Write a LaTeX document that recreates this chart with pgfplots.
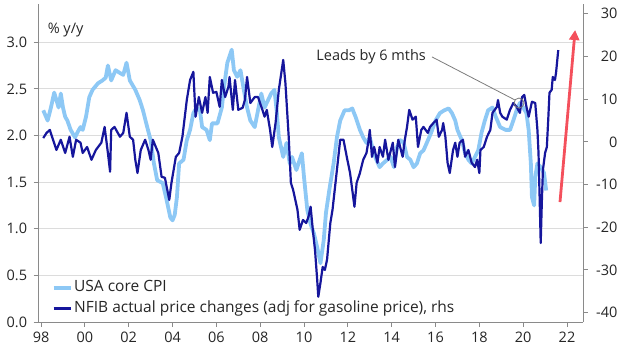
\documentclass[border=0pt]{standalone}
\usepackage{pgfplots}
\pgfplotsset{compat=1.18}
\usetikzlibrary{arrows.meta}
\usepackage{fontspec}
\setmainfont{Open Sans}
\definecolor{cpi}{HTML}{8DC8F5}
\definecolor{nfib}{HTML}{16169C}
\definecolor{arr}{HTML}{F4505C}
\definecolor{axgray}{HTML}{8A8A8A}
\definecolor{gridgray}{HTML}{DCDCDC}
\definecolor{txt}{HTML}{262626}

\pgfplotstableread{
x y
1998.1 2.27
1998.3 2.16
1998.45 2.30
1998.6 2.46
1998.8 2.30
1998.9 2.45
1999.0 2.30
1999.1 2.20
1999.2 2.16
1999.35 2.06
1999.55 1.98
1999.7 2.05
1999.8 2.09
1999.9 2.06
2000.05 2.20
2000.2 2.41
2000.35 2.49
2000.6 2.56
2000.8 2.59
2000.95 2.62
2001.05 2.75
2001.2 2.59
2001.4 2.70
2001.6 2.67
2001.75 2.65
2001.9 2.78
2002.05 2.59
2002.3 2.49
2002.5 2.38
2002.65 2.27
2002.8 2.13
2003.0 1.95
2003.15 1.70
2003.3 1.52
2003.55 1.49
2003.7 1.34
2003.9 1.12
2004.0 1.09
2004.1 1.15
2004.2 1.34
2004.3 1.70
2004.5 1.74
2004.65 1.95
2004.8 2.06
2004.95 2.24
2005.1 2.30
2005.25 2.27
2005.35 2.09
2005.55 2.06
2005.7 1.95
2005.8 2.13
2006.05 2.13
2006.25 2.30
2006.35 2.52
2006.5 2.78
2006.7 2.92
2006.8 2.70
2006.95 2.63
2007.1 2.70
2007.25 2.49
2007.4 2.30
2007.55 2.16
2007.75 2.09
2007.9 2.27
2008.05 2.45
2008.2 2.30
2008.3 2.35
2008.5 2.45
2008.65 2.49
2008.75 2.27
2008.85 1.98
2009.05 1.77
2009.2 1.92
2009.35 1.70
2009.45 1.77
2009.65 1.63
2009.9 1.81
2010.0 1.55
2010.15 1.20
2010.3 1.05
2010.45 0.95
2010.6 0.80
2010.75 0.63
2010.9 0.88
2011.0 1.17
2011.15 1.41
2011.35 1.70
2011.5 1.98
2011.65 2.16
2011.85 2.27
2012.05 2.27
2012.2 2.29
2012.35 2.20
2012.55 2.06
2012.7 1.98
2012.85 1.92
2013.0 1.98
2013.15 1.84
2013.3 1.74
2013.45 1.66
2013.6 1.70
2013.8 1.74
2013.95 1.77
2014.1 1.66
2014.25 1.88
2014.4 1.95
2014.55 1.92
2014.7 1.77
2014.85 1.74
2015.0 1.66
2015.15 1.70
2015.3 1.81
2015.45 1.84
2015.6 1.92
2015.8 2.03
2016.0 2.16
2016.2 2.24
2016.4 2.27
2016.6 2.29
2016.75 2.24
2016.9 2.16
2017.0 2.06
2017.2 1.95
2017.35 1.81
2017.5 1.74
2017.65 1.70
2017.8 1.77
2017.95 1.84
2018.1 2.03
2018.25 2.16
2018.4 2.27
2018.6 2.30
2018.75 2.20
2018.95 2.09
2019.2 2.06
2019.4 2.06
2019.55 2.16
2019.7 2.27
2019.85 2.35
2020.0 2.30
2020.15 2.24
2020.25 2.06
2020.35 1.70
2020.4 1.34
2020.5 1.25
2020.55 1.55
2020.65 1.70
2020.8 1.66
2020.95 1.60
2021.05 1.41
}\cpidata

\pgfplotstableread{
x y
1998.1 0.9
1998.25 2.1
1998.4 2.8
1998.5 1.2
1998.7 -1.9
1998.9 0.5
1999.1 -2.6
1999.3 1.2
1999.45 -3.5
1999.6 0.5
1999.8 -0.2
1999.9 -2.6
2000.1 -1.2
2000.3 -4.2
2000.5 -1.9
2000.75 -0.2
2000.9 3.5
2001.05 -2.6
2001.15 -7.0
2001.2 2.8
2001.35 3.5
2001.6 1.2
2001.75 2.1
2001.9 6.8
2002.05 1.2
2002.2 0.5
2002.3 -4.2
2002.4 -7.3
2002.55 -1.9
2002.75 0.5
2002.9 -1.9
2003.0 -4.2
2003.1 0.5
2003.35 -2.6
2003.5 -8.2
2003.65 -8.4
2003.85 -13.6
2003.95 -9.6
2004.15 -3.5
2004.3 -2.6
2004.45 1.2
2004.65 9.8
2004.8 14.5
2004.95 16.4
2005.05 5.9
2005.2 10.5
2005.35 6.8
2005.5 10.5
2005.6 6.8
2005.7 15.2
2005.85 11.5
2006.0 11.7
2006.15 8.2
2006.25 14.5
2006.4 10.5
2006.55 12.9
2006.6 15.2
2006.75 7.5
2006.85 14.5
2007.0 7.5
2007.2 8.0
2007.3 9.8
2007.4 15.2
2007.55 9.1
2007.75 10.5
2007.9 10.5
2008.1 7.5
2008.2 5.9
2008.3 7.5
2008.45 2.8
2008.55 -1.2
2008.7 4.4
2008.85 12.2
2009.05 19.2
2009.15 13.8
2009.3 1.2
2009.4 -9.6
2009.5 -11.2
2009.7 -15.9
2009.8 -20.6
2009.95 -18.3
2010.1 -19.0
2010.2 -17.6
2010.3 -15.2
2010.4 -20.6
2010.5 -25.3
2010.6 -32.3
2010.65 -36.3
2010.75 -33.0
2010.85 -29.3
2010.95 -30.0
2011.05 -27.6
2011.2 -19.0
2011.3 -15.9
2011.5 -6.6
2011.65 0.5
2011.8 0.5
2011.95 -3.5
2012.1 -7.3
2012.2 -11.2
2012.3 -15.2
2012.4 -9.6
2012.55 -7.3
2012.7 -4.2
2012.85 -2.6
2012.95 0.5
2013.0 2.8
2013.1 -3.5
2013.2 -1.2
2013.35 -4.9
2013.45 -1.2
2013.6 -3.5
2013.7 0.5
2013.85 -4.2
2014.05 -0.2
2014.15 -5.9
2014.3 0.5
2014.5 -3.5
2014.6 0.5
2014.7 3.5
2014.8 7.5
2014.95 5.2
2015.1 5.9
2015.2 -1.2
2015.35 2.8
2015.45 3.5
2015.65 2.1
2015.75 3.5
2015.9 4.4
2016.05 5.2
2016.15 1.2
2016.3 2.8
2016.35 4.4
2016.45 1.2
2016.55 -4.9
2016.65 -7.3
2016.8 -1.9
2016.9 -0.2
2017.0 -3.5
2017.1 -0.2
2017.25 0.5
2017.35 -3.5
2017.5 -1.9
2017.65 -4.9
2017.8 -5.9
2017.9 -4.2
2018.0 -7.3
2018.05 -1.9
2018.2 -1.2
2018.35 1.2
2018.5 2.8
2018.6 6.8
2018.8 8.2
2018.85 9.8
2018.95 6.8
2019.05 5.9
2019.25 5.2
2019.4 7.5
2019.55 9.1
2019.7 8.2
2019.85 6.8
2019.95 10.5
2020.05 11.0
2020.15 8.2
2020.25 5.9
2020.4 9.4
2020.55 9.1
2020.65 2.8
2020.7 -2.6
2020.75 -12.9
2020.8 -23.7
2020.85 -14.3
2020.9 -6.6
2021.0 -2.6
2021.08 -1.2
2021.15 5.9
2021.2 11.5
2021.3 12.2
2021.35 15.2
2021.45 14.5
2021.5 16.2
2021.6 21.5
}\nfibdata

\begin{document}
\fontsize{14}{16}\selectfont
\begin{tikzpicture}
\path[use as bounding box] (-38pt,-29pt) rectangle (582pt,322pt);
\begin{axis}[
  at={(0pt,0pt)}, anchor=south west, scale only axis,
  width=545pt, height=318pt,
  xmin=1997.86, xmax=2022.73, ymin=0, ymax=3.41,
  axis x line*=bottom, axis y line*=left,
  axis line style={draw=axgray, line width=0.9pt},
  xtick={1998,2000,...,2022},
  xticklabels={98,00,02,04,06,08,10,12,14,16,18,20,22},
  ytick={0,0.5,...,3},
  yticklabels={0.0,0.5,1.0,1.5,2.0,2.5,3.0},
  ymajorgrids, grid style={draw=gridgray, line width=0.9pt},
  tick align=outside, major tick length=4.5pt,
  tick style={draw=axgray, line width=0.9pt},
  ticklabel style={font=\fontsize{14.5}{16}\selectfont, text=txt},
  yticklabel style={xshift=-1.5pt},
  xticklabel style={yshift=-0.5pt},
]
\addplot[cpi, line width=3.8pt, line join=round] table {\cpidata};
\node[anchor=west, text=txt, font=\fontsize{14.5}{16}\selectfont] at (rel axis cs:0.009,0.918) {\% y/y};
\end{axis}
\begin{axis}[
  at={(0pt,0pt)}, anchor=south west, scale only axis,
  width=545pt, height=318pt,
  xmin=1997.86, xmax=2022.73, ymin=-42.2, ymax=32.3,
  axis x line=none, axis y line*=right,
  axis line style={draw=axgray, line width=0.9pt},
  ytick={-40,-30,...,30},
  yticklabels={-40,-30,-20,-10,0,10,20,30},
  tick align=outside, major tick length=4.5pt,
  tick style={draw=axgray, line width=0.9pt},
  yticklabel style={font=\fontsize{14.5}{16}\selectfont, text=txt, text width=25pt, align=right},
  legend style={draw=none, fill=none, at={(rel axis cs:0.025,0.015)}, anchor=south west,
    inner sep=0pt, row sep=3.5pt, font=\fontsize{15.5}{17}\selectfont, text=txt,
    nodes={inner sep=1.5pt, text height=11pt, text depth=3.2pt}},
  legend cell align=left,
]
\addlegendimage{cpi, line width=3.8pt}
\addlegendentry{USA core CPI}
\addplot[nfib, line width=2.2pt, line join=round] table {\nfibdata};
\addlegendentry{NFIB actual price changes (adj for gasoline price), rhs}
\draw[arr, line width=2.8pt, -{Triangle[length=10pt,width=10pt]}] (axis cs:2021.68,-14.1) -- (axis cs:2022.37,26.2);
\node[text=txt, font=\fontsize{14.5}{16}\selectfont] at (axis cs:2013.06,19.9) {Leads by 6 mths};
\draw[axgray!90!black, line width=0.8pt] (axis cs:2015.84,19.9) -- (axis cs:2019.63,9.8);
\draw[axgray!90!black, line width=0.8pt] (axis cs:2019.81,9.1) circle[radius=5pt];
\end{axis}
\end{tikzpicture}
\end{document}
